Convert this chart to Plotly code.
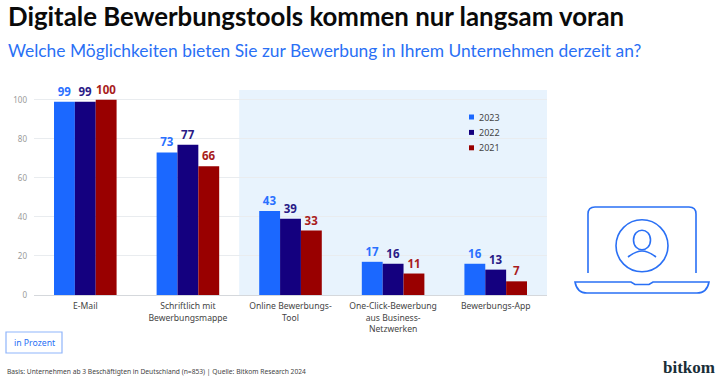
import plotly.graph_objects as go

categories = ["E-Mail", "Schriftlich mit<br>Bewerbungsmappe", "Online Bewerbungs-<br>Tool",
              "One-Click-Bewerbung<br>aus Business-<br>Netzwerken", "Bewerbungs-App"]
values_2023 = [99, 73, 43, 17, 16]
values_2022 = [99, 77, 39, 16, 13]
values_2021 = [100, 66, 33, 11, 7]
years = ["2023", "2022", "2021"]
colors = ["#1b68ff", "#14007f", "#990000"]
text_colors = ["#2a70ff", "#2a1a86", "#a81c1c"]

L, R, T, B = 34, 547, 90, 295
px = lambda x: (x - L) / (R - L)
py = lambda y: (B - y) / (B - T)

fig = go.Figure()
for name, vals, col, tc in zip(years, [values_2023, values_2022, values_2021], colors, text_colors):
    fig.add_bar(name=name, x=categories, y=vals, marker=dict(color=col, line_width=0),
                text=vals, textposition="outside", cliponaxis=False, constraintext="none",
                textfont=dict(family="Noto Sans", size=11.5, color=tc, weight="bold"),
                showlegend=False)

BLUE = "#2a70f5"
shapes = [dict(type="rect", xref="x", yref="y", x0=1.5, x1=4.5, y0=0, y1=105,
               fillcolor="#e8f3fd", line_width=0, layer="below")]
annots = []
def text(x, y, s, size, color, family="Noto Sans", anchor="left", weight="normal"):
    annots.append(dict(xref="paper", yref="paper", x=px(x), y=py(y), text=s, showarrow=False,
                       xanchor=anchor, yanchor="middle", align="left",
                       font=dict(family=family, size=size, color=color, weight=weight)))

text(6, 16, "Digitale Bewerbungstools kommen nur langsam voran", 25.8, "#0a0a0a", family="Lato", weight="bold")
text(6, 50, "Welche Möglichkeiten bieten Sie zur Bewerbung in Ihrem Unternehmen derzeit an?", 17.4, BLUE, family="Lato")
text(5, 371, "Basis: Unternehmen ab 3 Beschäftigten in Deutschland (n=853) | Quelle: Bitkom Research 2024", 6.7, "#444444")
text(34, 343, "in Prozent", 8.7, BLUE, anchor="center")
text(688.5, 367, "bitkom", 17, "#1a2e38", family="Liberation Serif", anchor="center", weight="bold")

for i, (yr, col) in enumerate(zip(years, colors)):
    yc = 117 + i * 15.4
    shapes.append(dict(type="rect", xref="paper", yref="paper", x0=px(469), x1=px(474),
                       y0=py(yc + 2.5), y1=py(yc - 2.5), fillcolor=col, line_width=0))
    text(477, yc, yr, 9, "#444444")

shapes.append(dict(type="rect", xref="paper", yref="paper", x0=px(6), x1=px(62), y0=py(353), y1=py(332),
                   line=dict(color="#8fb5fb", width=1.2), fillcolor="white"))

def Q(x, y):
    return f"{px(x):.5f},{py(y):.5f}"
icon = [
    f"M {Q(588,273)} L {Q(588,214)} Q {Q(588,207)} {Q(595,207)} L {Q(689,207)} Q {Q(696,207)} {Q(696,214)} L {Q(696,273)}",
    f"M {Q(575,282)} L {Q(631,282)} L {Q(635,284.5)} L {Q(649,284.5)} L {Q(653,282)} L {Q(709,282)} "
    f"Q {Q(707,293)} {Q(697,293)} L {Q(587,293)} Q {Q(577,293)} {Q(575,282)} Z",
    f"M {Q(633.5,240)} C {Q(633.5,227)} {Q(650.5,227)} {Q(650.5,240)} C {Q(650.5,253)} {Q(633.5,253)} {Q(633.5,240)} Z",
    f"M {Q(628,257)} Q {Q(636,251)} {Q(642,251)} Q {Q(648,251)} {Q(656,257)}",
]
for d in icon:
    shapes.append(dict(type="path", xref="paper", yref="paper", path=d, line=dict(color=BLUE, width=1.6)))
shapes.append(dict(type="circle", xref="paper", yref="paper", x0=px(616), x1=px(668), y0=py(271.7), y1=py(219.7),
                   line=dict(color=BLUE, width=1.6)))

fig.update_layout(
    width=720, height=380, autosize=False, barmode="group", bargap=0.39, bargroupgap=0,
    margin=dict(l=L, r=720 - R, t=T, b=380 - B), paper_bgcolor="white", plot_bgcolor="rgba(0,0,0,0)",
    font=dict(family="Noto Sans", color="#444444"), shapes=shapes, annotations=annots,
    xaxis=dict(type="category", range=[-0.5, 4.5], showgrid=False, linecolor="#d5d8dc", linewidth=1.2,
               ticks="", tickangle=0, tickfont=dict(size=8.6, color="#444444"), ticklabelstandoff=3),
    yaxis=dict(range=[0, 105], tickvals=[0, 20, 40, 60, 80, 100], gridcolor="#e9ecef", gridwidth=1,
               zeroline=False, ticks="", tickfont=dict(size=8, color="#9a9a9a"), ticklabelstandoff=6),
)
fig.write_html("out.html", config=dict(displayModeBar=False), post_script="document.body.style.margin='0';")
